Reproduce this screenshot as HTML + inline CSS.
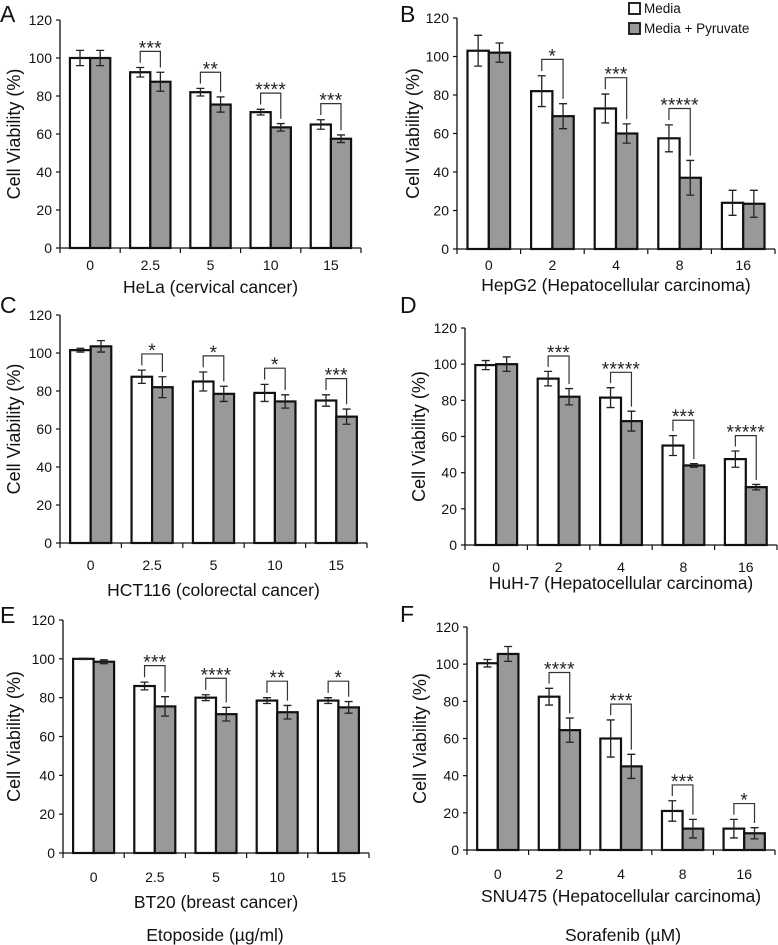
<!DOCTYPE html>
<html><head><meta charset="utf-8"><style>
html,body{margin:0;padding:0;background:#fff;}
svg{display:block;font-family:"Liberation Sans",Arial,sans-serif;}
</style></head><body>
<svg id="fig" width="778" height="945" viewBox="0 0 778 945" xmlns="http://www.w3.org/2000/svg"></svg>
<script>
const yTicks=[0,20,40,60,80,100,120];
const catsEtop=["0","2.5","5","10","15"];
const catsSora=["0","2","4","8","16"];
const mediaA=[100,92.5,82,71.5,65], mediaAErr=[4,2.5,2,1.5,2.5];
const pyrA=[100,87.5,75.5,63.5,57.5], pyrAErr=[4,5,4,2,2];
const starsA=["","***","**","****","***"];
const mediaB=[103,82,73,57.5,24], mediaBErr=[8,8,7.5,7,6.5];
const pyrB=[102,69,60,37,23.5], pyrBErr=[5,6.5,5,9,7];
const starsB=["","*","***","*****",""];
const mediaC=[101.5,87.5,85,79,75], mediaCErr=[1,3.5,5,4.5,3];
const pyrC=[103.5,82,78.5,74.5,66.5], pyrCErr=[3,5.5,4,3.5,4];
const starsC=["","*","*","*","***"];
const mediaD=[99.5,92,81.5,55,47.5], mediaDErr=[2.5,4,5.5,5.5,4.5];
const pyrD=[100,82,68.5,44,32], pyrDErr=[4,4.5,5.5,1,1.5];
const starsD=["","***","*****","***","*****"];
const mediaE=[100,86,80,78.5,78.5], mediaEErr=[0.3,2,1.5,1.5,1.5];
const pyrE=[98.5,75.5,71.5,72.5,75], pyrEErr=[1,5,3.5,3.5,3];
const starsE=["","***","****","**","*"];
const mediaF=[100.5,82.5,60,21,11.5], mediaFErr=[2,4.5,10,5.5,5];
const pyrF=[105.5,64.5,45,11.5,9], pyrFErr=[4,6.5,6.5,5,3];
const starsF=["","****","***","***","*"];

const NS="http://www.w3.org/2000/svg";
const svg=document.getElementById('fig');
function mk(tag,at,parent){const e=document.createElementNS(NS,tag);for(const k in at)e.setAttribute(k,at[k]);(parent||svg).appendChild(e);return e;}
function txt(s,at,parent){const e=mk('text',at,parent);e.textContent=s;return e;}

const panels=[
 {id:'a',letter:'A',lx:0,ly:22,x0:60,x1:361,yTop:20,yBot:248,ylx:14,cats:catsEtop,m:mediaA,me:mediaAErr,p:pyrA,pe:pyrAErr,s:starsA,title:'HeLa (cervical cancer)',ty:293,tky:265},
 {id:'b',letter:'B',lx:400,ly:22,x0:457,x1:775,yTop:18,yBot:249,ylx:413,cats:catsSora,m:mediaB,me:mediaBErr,p:pyrB,pe:pyrBErr,s:starsB,title:'HepG2 (Hepatocellular carcinoma)',ty:291,tky:265},
 {id:'c',letter:'C',lx:0,ly:313,x0:60,x1:367,yTop:315,yBot:543,ylx:14,cats:catsEtop,m:mediaC,me:mediaCErr,p:pyrC,pe:pyrCErr,s:starsC,title:'HCT116 (colorectal cancer)',ty:596,tky:565},
 {id:'d',letter:'D',lx:400,ly:313,x0:465,x1:777,yTop:328,yBot:545,ylx:419,cats:catsSora,m:mediaD,me:mediaDErr,p:pyrD,pe:pyrDErr,s:starsD,title:'HuH-7 (Hepatocellular carcinoma)',ty:589,tky:567},
 {id:'e',letter:'E',lx:0,ly:623,x0:63,x1:369,yTop:620,yBot:853,ylx:14,cats:catsEtop,m:mediaE,me:mediaEErr,p:pyrE,pe:pyrEErr,s:starsE,title:'BT20 (breast cancer)',ty:908,tky:877},
 {id:'f',letter:'F',lx:400,ly:622,x0:467,x1:775,yTop:627,yBot:850,ylx:420,cats:catsSora,m:mediaF,me:mediaFErr,p:pyrF,pe:pyrFErr,s:starsF,title:'SNU475 (Hepatocellular carcinoma)',ty:902,tky:874}
];

panels.forEach(P=>{
  const g=mk('g',{});
  
  
  const y=v=>P.yBot-(v/120)*(P.yBot-P.yTop);
  const n=P.cats.length, cw=(P.x1-P.x0)/n;
  const lt=txt(P.letter,{x:P.lx,y:P.ly,'font-size':23,fill:'#111'},g);
  
  
  const ya=mk('line',{x1:P.x0,y1:P.yTop,x2:P.x0,y2:P.yBot,stroke:'#111','stroke-width':1.3},g);
  
  
  const xa=mk('line',{x1:P.x0,y1:P.yBot,x2:P.x1,y2:P.yBot,stroke:'#111','stroke-width':1.3},g);
  
  
  yTicks.forEach(t=>{
    mk('line',{x1:P.x0-4,y1:y(t),x2:P.x0,y2:y(t),stroke:'#111','stroke-width':1.2},g);
    const tl=txt(String(t),{x:P.x0-8,y:y(t)+5,'font-size':14,'text-anchor':'end',fill:'#111'},g);
    
    
  });
  for(let i=0;i<=n;i++){mk('line',{x1:P.x0+i*cw,y1:P.yBot,x2:P.x0+i*cw,y2:P.yBot+5,stroke:'#111','stroke-width':1.2},g);}
  const yl=txt('Cell Viability (%)',{x:0,y:0,'font-size':18,'text-anchor':'middle',fill:'#111',transform:`translate(${P.ylx+6},${(P.yTop+P.yBot)/2}) rotate(-90)`},g);
  
  
  const bw=cw*0.335;
  P.cats.forEach((c,i)=>{
    const cx=P.x0+cw*(i+0.5);
    const xl=txt(c,{x:cx,y:P.tky+5,'font-size':14,'text-anchor':'middle',fill:'#111'},g);
    
    
    [[P.m,P.me,'#fff',cx-bw,'media'],[P.p,P.pe,'#999',cx,'pyruvate']].forEach(([arr,err,fill,bx,nm])=>{
      const v=arr[i],e=err[i];
      const r=mk('rect',{x:bx,y:y(v),width:bw,height:P.yBot-y(v),fill:fill,stroke:'#111','stroke-width':2.2},g);
      
      
      const ex=bx+bw/2;
      mk('path',{d:`M${ex},${y(v+e)}V${y(v-e)}M${ex-4},${y(v+e)}H${ex+4}M${ex-4},${y(v-e)}H${ex+4}`,stroke:'#222','stroke-width':1.3,fill:'none'},g);
    });
    if(P.s[i]){
      const wt=P.m[i]+P.me[i], gt=P.p[i]+P.pe[i];
      const top=Math.max(wt,gt)+8.5;
      const lx=cx-bw/2, rx=cx+bw/2;
      const br=mk('path',{d:`M${lx},${y(wt+2.5)}V${y(top)}H${rx}V${y(gt+2.5)}`,stroke:'#333','stroke-width':1.2,fill:'none'},g);
      
      
      const st=txt(P.s[i],{x:cx,y:y(top)+3,'font-size':19,'text-anchor':'middle',fill:'#222','letter-spacing':'0.3'},g);
      
      
    }
  });
  const tt=txt(P.title,{x:(P.x0+P.x1)/2,y:P.ty,'font-size':17.5,'text-anchor':'middle',fill:'#111'},g);
  
  
});
const lg=mk('g',{});


const l1=mk('rect',{x:629,y:3,width:11,height:11,fill:'#fff',stroke:'#111','stroke-width':1.8},lg);


txt('Media',{x:644,y:13,'font-size':13.5,fill:'#111'},lg);
const l2=mk('rect',{x:629,y:23,width:11,height:11,fill:'#999',stroke:'#111','stroke-width':1.8},lg);


txt('Media + Pyruvate',{x:644,y:33,'font-size':13.5,fill:'#111'},lg);
const e1=txt('Etoposide (µg/ml)',{x:215,y:941,'font-size':17.5,'text-anchor':'middle',fill:'#111'});


const e2=txt('Sorafenib (µM)',{x:623,y:941,'font-size':17.5,'text-anchor':'middle',fill:'#111'});


</script>
</body></html>
